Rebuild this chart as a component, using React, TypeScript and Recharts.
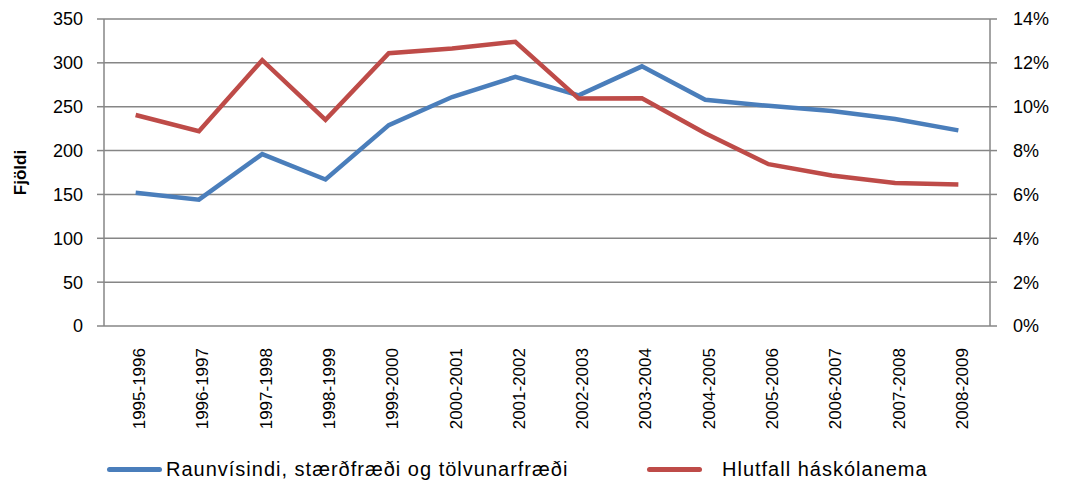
import React from 'react';
import { LineChart, Line, XAxis, YAxis, CartesianGrid, Legend } from 'recharts';

const categories = [
  '1995-1996', '1996-1997', '1997-1998', '1998-1999', '1999-2000', '2000-2001', '2001-2002',
  '2002-2003', '2003-2004', '2004-2005', '2005-2006', '2006-2007', '2007-2008', '2008-2009',
];
const raunvisindi = [152, 144, 196, 167, 229, 261, 284, 263, 296, 258, 251, 245, 236, 223];
const hlutfall = [0.0962, 0.0888, 0.1212, 0.094, 0.1244, 0.1266, 0.1296, 0.1037, 0.1039, 0.0879, 0.0738, 0.0686, 0.0652, 0.0645];
const leftTicks = [0, 50, 100, 150, 200, 250, 300, 350];
const rightTicks = [0, 0.02, 0.04, 0.06, 0.08, 0.1, 0.12, 0.14];
const bandTicks = [0, 1, 2, 3, 4, 5, 6, 7, 8, 9, 10, 11, 12, 13, 14];
const seriesNames = ['Raunvísindi, stærðfræði og tölvunarfræði', 'Hlutfall háskólanema'];
const yLabel = 'Fjöldi';

const data = categories.map((c, i) => ({ cat: c, rsv: raunvisindi[i], hlut: hlutfall[i] }));

const FONT = '"Liberation Sans", Arial, sans-serif';
const GRAY = '#868686';
const BLUE = '#4A7EBB';
const RED = '#BE4B48';

const XTick = (props: any) => {
  const { x, y, payload } = props;
  return (
    <text
      transform={`translate(${x + 4},${y}) rotate(-90)`}
      textAnchor="end"
      dominantBaseline="central"
      fontSize={17}
      fill="#000"
      fontFamily={FONT}
    >
      {payload.value}
    </text>
  );
};

const legendLefts = [107, 647];
const legendTextGap = [4, 20];

const renderLegend = (props: any) => {
  const payload = props.payload || [];
  const ordered = seriesNames
    .map((n) => payload.find((p: any) => p.value === n))
    .filter(Boolean);
  return (
    <div style={{ position: 'relative', height: 30, width: 1070 }}>
      {ordered.map((p: any, i: number) => (
        <div
          key={i}
          style={{
            position: 'absolute',
            left: legendLefts[i],
            top: 0,
            display: 'flex',
            alignItems: 'center',
            height: 30,
            fontFamily: FONT,
            fontSize: 20,
            letterSpacing: 1,
            color: '#000',
            whiteSpace: 'nowrap',
          }}
        >
          <span style={{ display: 'inline-block', width: 55, height: 5, borderRadius: 3, background: p.color }} />
          <span style={{ marginLeft: legendTextGap[i] }}>{p.value}</span>
        </div>
      ))}
    </div>
  );
};

const YLabel = (props: any) => {
  const { viewBox } = props;
  const cx = viewBox.x + 20;
  const cy = viewBox.y + viewBox.height / 2;
  return (
    <text
      transform={`translate(${cx},${cy}) rotate(-90)`}
      textAnchor="middle"
      dominantBaseline="central"
      fontSize={17}
      fontWeight="bold"
      fontFamily={FONT}
      fill="#000"
    >
      {yLabel}
    </text>
  );
};

export default function App() {
  return (
    <div style={{ position: 'absolute', left: 0, top: 0, width: 1070, height: 484, background: '#fff' }}>
      <LineChart width={1070} height={484} data={data} margin={{ top: 19, right: 0, left: 0, bottom: 0 }}>
        <CartesianGrid yAxisId="left" xAxisId="cat" vertical={false} stroke={GRAY} strokeWidth={1.5} />
        <XAxis
          xAxisId="grid"
          type="number"
          domain={[0, 14]}
          ticks={bandTicks}
          tick={false}
          tickSize={6}
          height={0}
          stroke={GRAY}
          strokeWidth={1.5}
          allowDataOverflow
        />
        <XAxis
          xAxisId="cat"
          dataKey="cat"
          scale="band"
          interval={0}
          tickLine={false}
          axisLine={false}
          tickSize={0}
          tickMargin={22}
          height={128}
          tick={<XTick />}
        />
        <YAxis
          yAxisId="left"
          width={104}
          domain={[0, 350]}
          ticks={leftTicks}
          tickSize={7}
          tickMargin={14}
          stroke={GRAY}
          strokeWidth={1.5}
          tick={{ fill: '#000', fontSize: 18, fontFamily: FONT }}
          label={<YLabel />}
        />
        <YAxis
          yAxisId="right"
          orientation="right"
          width={80}
          domain={[0, 0.14]}
          ticks={rightTicks}
          tickSize={7}
          tickMargin={16}
          stroke={GRAY}
          strokeWidth={1.5}
          tickFormatter={(v: number) => `${Math.round(v * 100)}%`}
          tick={{ fill: '#000', fontSize: 18, fontFamily: FONT, textAnchor: 'start' }}
        />
        <Line
          xAxisId="cat"
          yAxisId="left"
          dataKey="rsv"
          name={seriesNames[0]}
          stroke={BLUE}
          strokeWidth={4.5}
          dot={false}
          isAnimationActive={false}
        />
        <Line
          xAxisId="cat"
          yAxisId="right"
          dataKey="hlut"
          name={seriesNames[1]}
          stroke={RED}
          strokeWidth={4.5}
          dot={false}
          isAnimationActive={false}
        />
        <Legend verticalAlign="bottom" content={renderLegend} wrapperStyle={{ left: 0, bottom: 0, width: 1070, height: 30 }} />
      </LineChart>
    </div>
  );
}
